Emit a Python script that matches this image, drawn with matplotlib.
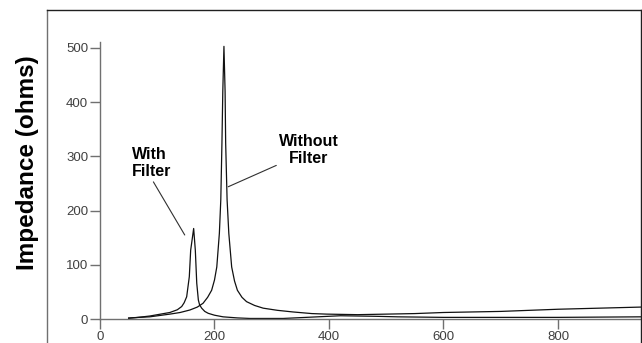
import matplotlib
matplotlib.use('Agg')
import matplotlib.pyplot as plt
from matplotlib.lines import Line2D

# data
freq_without = [50, 87, 122, 140, 157, 170, 180, 188, 195, 200, 204, 208.5, 211, 213,
                214.5, 216.5, 218.5, 219.5, 222, 225, 230, 235, 240, 248, 256, 270,
                285, 310, 337, 370, 396, 450, 500, 550, 600, 700, 800, 945]
imp_without = [2, 4, 9, 12, 16.6, 22, 29, 40, 53, 72, 96, 158, 220, 325,
               420, 503, 420, 325, 220, 158, 96, 70, 53, 40, 32, 25,
               20, 16, 13, 10, 9, 8, 9, 10, 12, 14, 18, 22]

freq_with = [50, 87, 122, 135, 142.7, 147, 151.4, 156, 158.4, 163.6, 166.5, 169,
             171.8, 174, 177.6, 183, 189, 200, 215, 240, 262, 320, 380, 420, 480,
             520, 600, 800, 945]
imp_with = [1, 5.5, 12, 17, 23, 30, 41, 78, 127, 167, 127, 66,
            35, 26, 20, 14, 10.5, 7, 4, 2, 1, 1, 4, 6, 5,
            4, 3, 3, 4]

x_ticks = [0, 200, 400, 600, 800]
y_ticks = [0, 100, 200, 300, 400, 500]

W, H = 642, 343
fig = plt.figure(figsize=(W / 100, H / 100), dpi=100)
ax = fig.add_axes([100 / W, 1 - 319 / H, 541 / W, (319 - 41.7) / H])

ax.plot(freq_without, imp_without, color='#111111', lw=0.9)
ax.plot(freq_with, imp_with, color='#111111', lw=0.9)

ax.set_xlim(0, 945)
ax.set_ylim(0, 511.6)
ax.set_xticks(x_ticks)
ax.set_yticks(y_ticks)

for s in ['top', 'right']:
    ax.spines[s].set_visible(False)
for s in ['left', 'bottom']:
    ax.spines[s].set_color('#707070')
    ax.spines[s].set_linewidth(1)
ax.tick_params(direction='out', length=7.5, width=1, color='#707070',
               labelcolor='#404040', labelsize=9.5, pad=1)
for lab in ax.get_xticklabels() + ax.get_yticklabels():
    lab.set_fontfamily('Liberation Sans')

# annotations
ax.annotate('With\nFilter', xy=(148, 155), xytext=(56, 288),
            ha='left', va='center', fontsize=11.5, fontweight='bold',
            family='Liberation Sans',
            arrowprops=dict(arrowstyle='-', color='#303030', lw=0.8,
                            shrinkA=0, shrinkB=0, relpos=(0.5, 0)))
ax.annotate('Without\nFilter', xy=(224, 244), xytext=(365, 312),
            ha='center', va='center', fontsize=11.5, fontweight='bold',
            family='Liberation Sans',
            arrowprops=dict(arrowstyle='-', color='#303030', lw=0.8,
                            shrinkA=0, shrinkB=0, relpos=(0.05, 0.1)))

fig.text(28 / W, 1 - 163 / H, 'Impedance (ohms)', rotation=90, ha='center',
         va='center', fontsize=17.5, fontweight='bold', family='Liberation Sans')

# outer frame
x0, x1, ytop = 46.7 / W, 641.3 / W, 1 - 9.5 / H
fig.add_artist(Line2D([x0, x0], [0, ytop], transform=fig.transFigure, color='#707070', lw=1))
fig.add_artist(Line2D([x0, x1], [ytop, ytop], transform=fig.transFigure, color='#202020', lw=1))
fig.add_artist(Line2D([x1, x1], [0, ytop], transform=fig.transFigure, color='#202020', lw=1))

fig.savefig('out.png', dpi=100)
